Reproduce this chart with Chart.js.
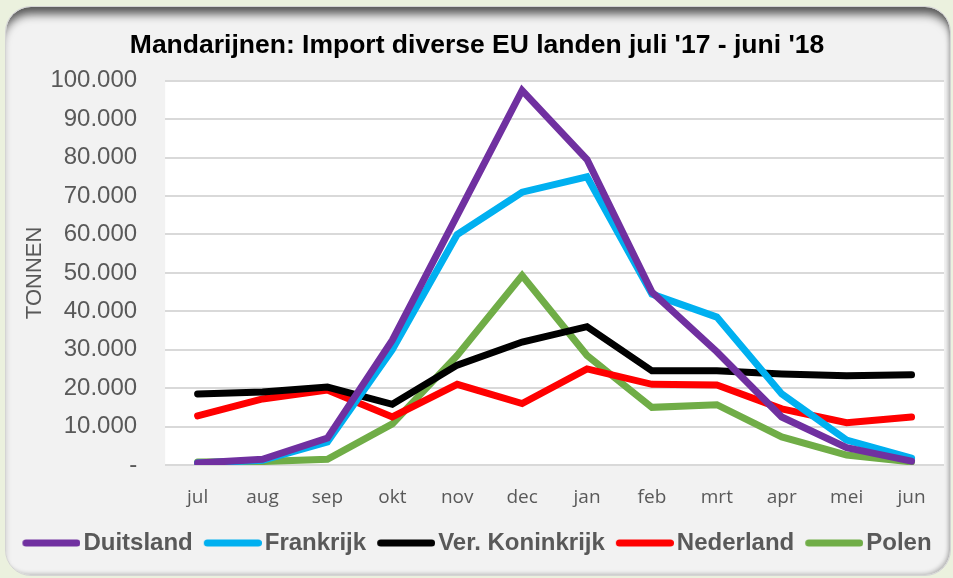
<!DOCTYPE html>
<html>
<head>
<meta charset="utf-8">
<script src="https://cdn.jsdelivr.net/npm/chart.js@4"></script>
<style>
  html, body { margin: 0; padding: 0; background: #ebf1de; }
  #frame {
    position: absolute; left: 5px; top: 6px; width: 944px; height: 568px;
    background: #f2f2f2; border-radius: 26px; border: 1px solid #d4d4d4;
    box-shadow: inset 0 12px 10px -5px rgba(0,0,0,0.65), inset -3px -3px 4px -2px rgba(0,0,0,0.25);
  }
  #wrap { position: absolute; left: 0; top: 0; width: 953px; height: 578px; }
</style>
</head>
<body>
<div id="frame"></div>
<div id="wrap"><canvas id="chart" width="953" height="578"></canvas></div>
<script>
const months = ['jul', 'aug', 'sep', 'okt', 'nov', 'dec', 'jan', 'feb', 'mrt', 'apr', 'mei', 'jun'];
const duitsland = [500, 1500, 7000, 32500, 65000, 97500, 79500, 45000, 29500, 12500, 4500, 1000];
const frankrijk = [500, 1200, 6000, 30000, 60000, 71000, 75000, 44500, 38500, 18500, 6500, 1800];
const verKoninkrijk = [18500, 19000, 20300, 15800, 26000, 32000, 36000, 24500, 24500, 23700, 23200, 23500];
const nederland = [12800, 17200, 19500, 12500, 21000, 16000, 25000, 21000, 20800, 14600, 11000, 12500];
const polen = [800, 900, 1500, 10700, 28500, 49300, 28500, 15000, 15700, 7300, 2600, 800];

function fmt(v) {
    if (v === 0) return '-';
    return String(v).replace(/\B(?=(\d{3})+(?!\d))/g, '.');
}

// legend swatch: thick rounded line sitting close to the label text
function swatch(color) {
    const c = document.createElement('canvas');
    c.width = 67;
    c.height = 8;
    const g = c.getContext('2d');
    g.strokeStyle = color;
    g.lineWidth = 7;
    g.lineCap = 'round';
    g.beginPath();
    g.moveTo(12.5, 4);
    g.lineTo(63.5, 4);
    g.stroke();
    return c;
}

function line(label, data, color) {
    return {
        label: label,
        data: data,
        borderColor: color,
        backgroundColor: color,
        borderWidth: 7,
        borderCapStyle: 'round',
        pointRadius: 0,
        pointStyle: swatch(color),
        tension: 0
    };
}

// white plot area on the grey panel
const plotBg = {
    id: 'plotBg',
    beforeDraw(chart) {
        const a = chart.chartArea;
        const ctx = chart.ctx;
        ctx.save();
        ctx.fillStyle = '#ffffff';
        ctx.fillRect(a.left, a.top, a.right - a.left, a.bottom - a.top);
        ctx.restore();
    }
};

const ctx = document.getElementById('chart').getContext('2d');
new Chart(ctx, {
    type: 'line',
    data: {
        labels: months,
        datasets: [
            line('Duitsland', duitsland, '#7030a0'),
            line('Frankrijk', frankrijk, '#00b0f0'),
            line('Ver. Koninkrijk', verKoninkrijk, '#000000'),
            line('Nederland', nederland, '#ff0000'),
            line('Polen', polen, '#70ad47')
        ]
    },
    options: {
        responsive: false,
        animation: false,
        layout: { padding: { left: 10, right: 9, top: 0, bottom: 13 } },
        plugins: {
            title: {
                display: true,
                text: "Mandarijnen: Import diverse EU landen juli '17 - juni '18",
                color: '#000000',
                font: { family: 'Liberation Sans, Arial', size: 26.5, weight: 'bold' },
                padding: { top: 30, bottom: 19 }
            },
            legend: {
                position: 'bottom',
                labels: {
                    usePointStyle: true,
                    pointStyleWidth: 49,
                    boxHeight: 7,
                    color: '#595959',
                    font: { family: 'Liberation Sans, Arial', size: 24, weight: 'bold' },
                    padding: 11
                }
            },
            tooltip: { enabled: false }
        },
        scales: {
            x: {
                offset: true,
                grid: { display: false },
                border: { display: false },
                ticks: {
                    color: '#595959',
                    font: { family: 'Open Sans', size: 19 },
                    padding: 13,
                    maxRotation: 0
                },
                afterFit(scale) { scale.height = 55; }
            },
            y: {
                min: 0,
                max: 100000,
                grid: { color: '#d9d9d9', lineWidth: 2, drawTicks: false },
                border: { display: false },
                ticks: {
                    stepSize: 10000,
                    color: '#595959',
                    font: { family: 'Liberation Sans, Arial', size: 24 },
                    padding: 28,
                    callback: v => fmt(v)
                },
                title: {
                    display: true,
                    text: 'TONNEN',
                    color: '#595959',
                    font: { family: 'Liberation Sans, Arial', size: 22 },
                    padding: { top: 12, bottom: 2 }
                },
                afterFit(scale) { scale.width -= 28; }
            }
        }
    },
    plugins: [plotBg]
});
</script>
</body>
</html>
